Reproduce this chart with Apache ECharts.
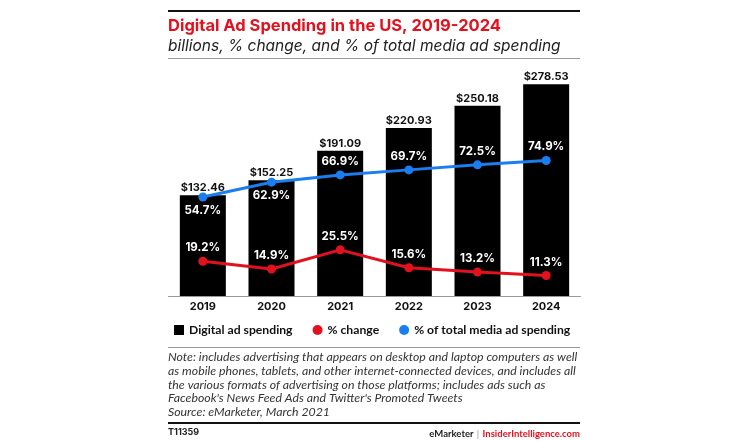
<!DOCTYPE html>
<html>
<head>
<meta charset="utf-8">
<script src="https://cdn.jsdelivr.net/npm/echarts@6/dist/echarts.min.js"></script>
<style>
html,body{margin:0;padding:0;background:#fff;}
#chart{width:750px;height:441px;}
</style>
</head>
<body>
<div id="chart"></div>
<script>
const years = ['2019','2020','2021','2022','2023','2024'];
const adSpending = [132.46, 152.25, 191.09, 220.93, 250.18, 278.53];
const pctChange = [19.2, 14.9, 25.5, 15.6, 13.2, 11.3];
const pctTotal = [54.7, 62.9, 66.9, 69.7, 72.5, 74.9];
const noteLines = [
  'Note: includes advertising that appears on desktop and laptop computers as well',
  'as mobile phones, tablets, and other internet-connected devices, and includes all',
  'the various formats of advertising on those platforms; includes ads such as',
  "Facebook's News Feed Ads and Twitter's Promoted Tweets",
  'Source: eMarketer, March 2021'
];

const FONT = 'Inter, Roboto, sans-serif';
const NFONT = 'Lato, Roboto, sans-serif';
const chart = echarts.init(document.getElementById('chart'), null, {renderer:'canvas'});

const graphics = [
  {type:'rect', shape:{x:168, y:10, width:412, height:2}, style:{fill:'#111'}},
  {type:'text', x:168, y:18, style:{text:'Digital Ad Spending in the US, 2019-2024', font:'bold 16.5px '+FONT, fill:'#e3101e'}},
  {type:'text', x:168, y:38, style:{text:'billions, % change, and % of total media ad spending', font:'italic 15.5px '+FONT, fill:'#222'}},
  {type:'rect', shape:{x:168, y:58, width:412, height:1}, style:{fill:'#999'}},
  {type:'rect', shape:{x:168, y:347, width:412, height:1}, style:{fill:'#999'}},
  {type:'rect', shape:{x:168, y:422, width:412, height:2}, style:{fill:'#111'}},
  {type:'text', x:168, y:428, style:{text:'T11359', font:'bold 9px '+FONT, fill:'#222'}},
  {type:'text', x:580, y:428, style:{
    text:'{a|eMarketer} {b||} {c|InsiderIntelligence.com}', align:'right',
    rich:{a:{font:'bold 9.5px '+NFONT, fill:'#222'}, b:{font:'9.5px '+NFONT, fill:'#999'}, c:{font:'bold 9.5px '+NFONT, fill:'#e3101e'}}
  }}
];
noteLines.forEach((t,i)=>{
  graphics.push({type:'text', x:168, y:351 + i*13.8, style:{text:t, font:'italic 12.3px '+NFONT, fill:'#333'}});
});

chart.setOption({
  animation:false,
  textStyle:{fontFamily:FONT},
  graphic:graphics,
  grid:{left:168.5, right:169.5, top:68, bottom:145},
  legend:{
    left:169, top:319, itemWidth:10, itemHeight:10, itemGap:20,
    textStyle:{fontFamily:NFONT, fontWeight:'bold', fontSize:12.2, color:'#111'},
    data:[
      {name:'Digital ad spending', icon:'rect'},
      {name:'% change', icon:'circle'},
      {name:'% of total media ad spending', icon:'circle'}
    ]
  },
  xAxis:{
    type:'category', data:years,
    axisLine:{lineStyle:{color:'#999', width:1}},
    axisTick:{show:false},
    axisLabel:{fontFamily:FONT, fontWeight:'bold', fontSize:11, color:'#111', margin:5}
  },
  yAxis:[
    {type:'value', min:0, max:300, show:false, splitLine:{show:false}},
    {type:'value', min:0, max:126, show:false, splitLine:{show:false}}
  ],
  series:[
    {
      name:'Digital ad spending', type:'bar', data:adSpending, barWidth:'67%',
      itemStyle:{color:'#000'},
      label:{show:true, position:'top', distance:2, formatter:p=>'$'+p.value.toFixed(2),
        fontFamily:FONT, fontWeight:'bold', fontSize:11, color:'#111'}
    },
    {
      name:'% change', type:'line', yAxisIndex:1, data:pctChange,
      symbol:'circle', symbolSize:9, lineStyle:{color:'#e3101e', width:3},
      itemStyle:{color:'#e3101e'},
      label:{show:true, position:'top', distance:3, formatter:p=>p.value.toFixed(1)+'%',
        fontFamily:FONT, fontWeight:'bold', fontSize:11.5, color:'#fff'}
    },
    {
      name:'% of total media ad spending', type:'line', yAxisIndex:1,
      data:pctTotal.map((v,i)=>i<2?{value:v, label:{position:'bottom', distance:3}}:v),
      symbol:'circle', symbolSize:9, lineStyle:{color:'#1a7df0', width:3},
      itemStyle:{color:'#1a7df0'},
      label:{show:true, position:'top', distance:3, formatter:p=>p.value.toFixed(1)+'%',
        fontFamily:FONT, fontWeight:'bold', fontSize:11.5, color:'#fff'}
    }
  ]
});
</script>
</body>
</html>
